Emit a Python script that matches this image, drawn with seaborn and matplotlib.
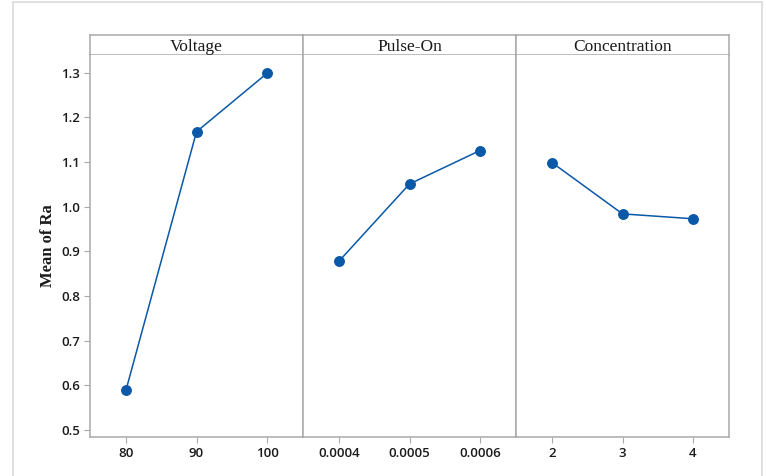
import matplotlib
matplotlib.use("Agg")
import matplotlib.pyplot as plt
import pandas as pd
import seaborn as sns
from matplotlib.patches import Rectangle

# factor levels and mean response (Ra)
factors = ["Voltage", "Pulse-On", "Concentration"]
voltage_levels = ["80", "90", "100"]
pulse_levels = ["0.0004", "0.0005", "0.0006"]
conc_levels = ["2", "3", "4"]
voltage_means = [0.589, 1.168, 1.299]
pulse_means = [0.878, 1.051, 1.126]
conc_means = [1.099, 0.984, 0.973]

levels = [voltage_levels, pulse_levels, conc_levels]
means = [voltage_means, pulse_means, conc_means]
y_ticks = [0.5, 0.6, 0.7, 0.8, 0.9, 1.0, 1.1, 1.2, 1.3]

sns.set_theme(style="white")
plt.rcParams["font.family"] = ["Open Sans", "DejaVu Sans"]

line_color = "#0a58a8"
frame_color = "#a9a9a9"
text_color = "#1a1a1a"
tick_font = dict(size=9.5, weight="semibold")

fig = plt.figure(figsize=(7.66, 4.76), dpi=100)
gs = fig.add_gridspec(
    2, 3, height_ratios=[20, 382], hspace=0, wspace=0,
    left=90 / 766, right=729 / 766, bottom=1 - 437 / 476, top=1 - 35 / 476,
)

ax0 = None
for i, name in enumerate(factors):
    strip = fig.add_subplot(gs[0, i])
    strip.set_xticks([])
    strip.set_yticks([])
    for sp in strip.spines.values():
        sp.set_color(frame_color)
        sp.set_linewidth(1.1)
    strip.text(0.5, 0.42, name, ha="center", va="center", fontsize=12.5,
               family="Liberation Serif", color=text_color,
               transform=strip.transAxes)

    ax = fig.add_subplot(gs[1, i], sharey=ax0)
    if ax0 is None:
        ax0 = ax
    df = pd.DataFrame({"level": levels[i], "mean": means[i]})
    sns.pointplot(data=df, x="level", y="mean", order=levels[i], ax=ax,
                  color=line_color, errorbar=None, markersize=7,
                  linewidth=1.1)
    ax.set_xlim(-0.51, 2.51)
    ax.set_xlabel("")
    ax.set_ylabel("")
    for sp in ax.spines.values():
        sp.set_color(frame_color)
        sp.set_linewidth(1.1)
    ax.spines["top"].set_visible(False)
    ax.tick_params(axis="x", direction="out", length=4, width=0.8,
                   color=frame_color, labelcolor=text_color, pad=3,
                   bottom=True)
    for lab in ax.get_xticklabels():
        lab.set_fontproperties(tick_font)
    if i == 0:
        ax.tick_params(axis="y", direction="out", length=4, width=0.8,
                       color=frame_color, labelcolor=text_color, pad=3,
                       left=True)
    else:
        ax.tick_params(axis="y", left=False, labelleft=False)

ax0.set_ylim(0.484, 1.340)
ax0.set_yticks(y_ticks)
ax0.set_yticklabels([f"{t:.1f}" for t in y_ticks], fontdict=tick_font)
ax0.set_ylabel("Mean of Ra", fontsize=12, family="Liberation Serif",
               fontweight="bold", color=text_color, labelpad=4)

# light outer frame around the whole graph
fig.patches.append(Rectangle((13 / 766, -0.02), 749 / 766, 1.02 - 2 / 476,
                             transform=fig.transFigure, fill=False,
                             edgecolor="#dadada", linewidth=1.2))

fig.savefig("out.png", dpi=100)
